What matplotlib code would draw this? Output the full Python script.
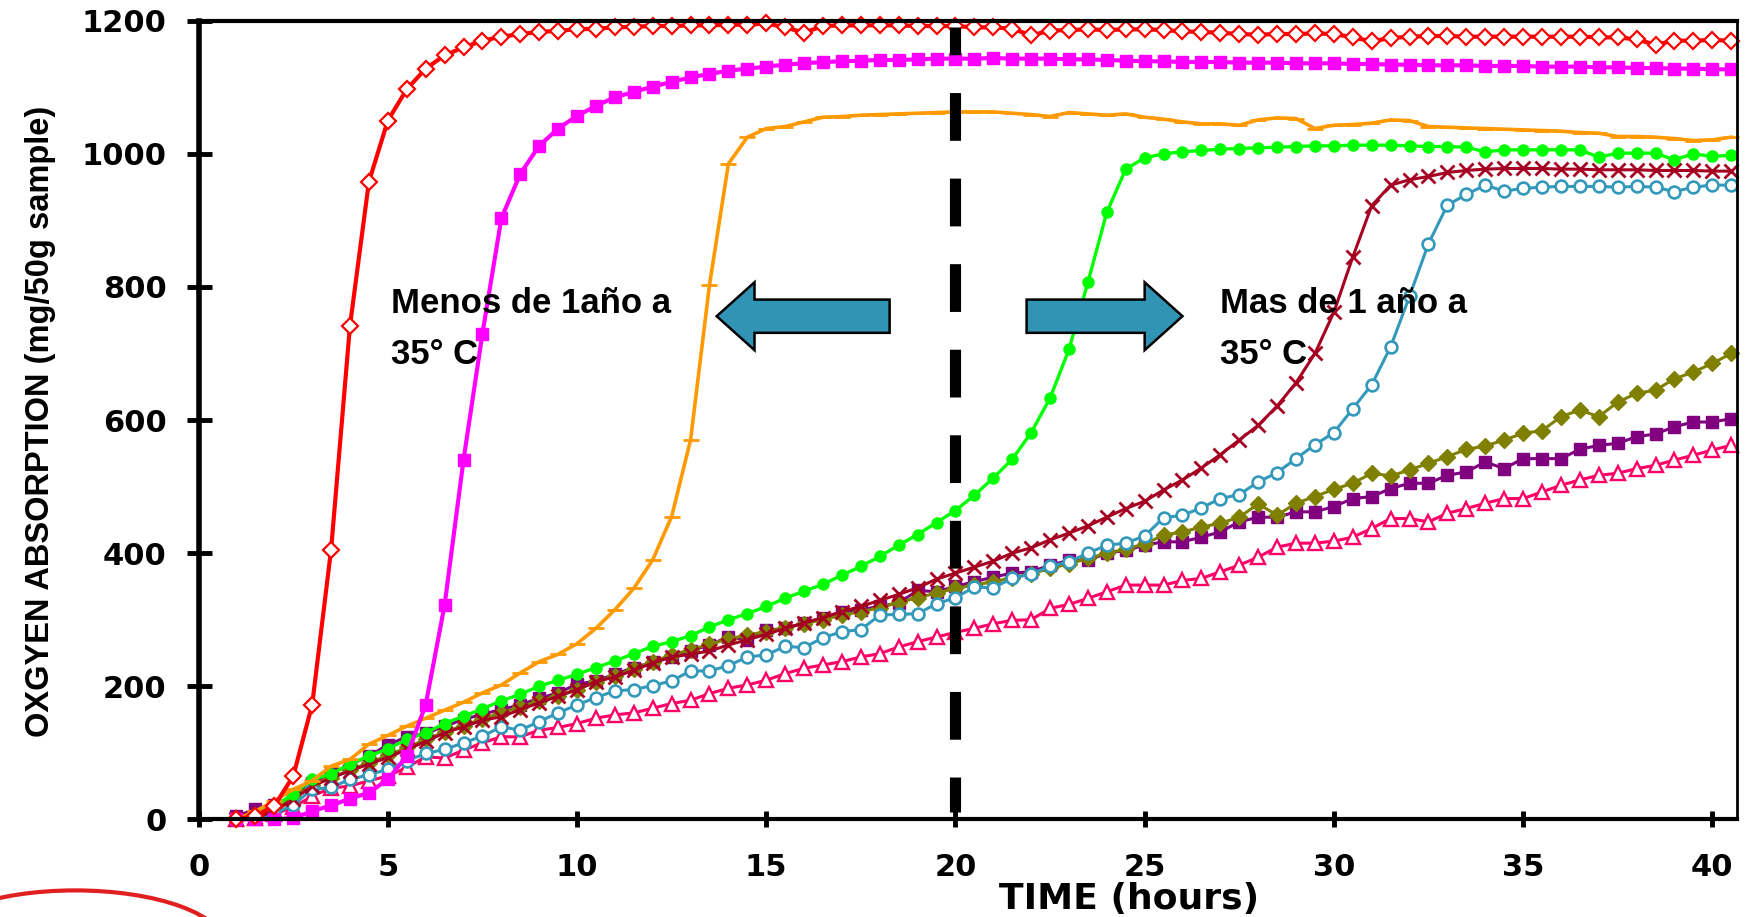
import numpy as np
import matplotlib
matplotlib.use('Agg')
import matplotlib.pyplot as plt
from matplotlib.patches import FancyArrow, Ellipse

# oxygen absorption vs time, readings every half hour from 1 h to 40.5 h
hours = np.arange(1.0, 41.0, 0.5)

red = [0, 5, 20, 65, 172, 405, 742, 958, 1050, 1097,
       1128, 1148, 1160, 1170, 1176, 1180, 1183, 1185, 1187, 1188,
       1190, 1191, 1192, 1192, 1193, 1193, 1194, 1194, 1196, 1190,
       1182, 1192, 1193, 1193, 1193, 1193, 1192, 1192, 1192, 1190,
       1190, 1188, 1178, 1185, 1186, 1187, 1186, 1187, 1187, 1186,
       1184, 1183, 1182, 1180, 1179, 1180, 1180, 1181, 1180, 1175,
       1169, 1174, 1176, 1177, 1177, 1176, 1176, 1176, 1176, 1176,
       1176, 1176, 1175, 1175, 1172, 1164, 1170, 1170, 1171, 1170]

magenta = [0, 0, 0, 2, 12, 21, 31, 40, 60, 95,
           172, 322, 540, 730, 903, 970, 1012, 1038, 1057, 1072,
           1085, 1093, 1101, 1108, 1115, 1120, 1125, 1128, 1131, 1134,
           1136, 1138, 1139, 1140, 1141, 1141, 1142, 1143, 1143, 1143,
           1144, 1143, 1143, 1143, 1142, 1142, 1141, 1140, 1139, 1139,
           1138, 1138, 1138, 1137, 1137, 1137, 1136, 1136, 1136, 1135,
           1135, 1134, 1134, 1133, 1133, 1133, 1132, 1132, 1132, 1131,
           1131, 1131, 1130, 1130, 1129, 1129, 1128, 1128, 1127, 1127]

orange = [0, 12, 28, 45, 58, 80, 90, 113, 126, 140,
          152, 164, 176, 190, 202, 220, 237, 248, 264, 287,
          315, 347, 390, 455, 570, 803, 985, 1025, 1038, 1041,
          1048, 1055, 1056, 1058, 1059, 1060, 1061, 1062, 1063, 1063,
          1063, 1061, 1059, 1056, 1062, 1060, 1058, 1060, 1055, 1052,
          1048, 1045, 1045, 1043, 1051, 1054, 1053, 1038, 1043, 1044,
          1046, 1051, 1050, 1041, 1040, 1039, 1038, 1037, 1036, 1035,
          1034, 1032, 1031, 1026, 1026, 1025, 1023, 1020, 1021, 1025]

green = [0, 8, 20, 38, 60, 68, 83, 95, 106, 120,
         130, 144, 155, 166, 178, 188, 200, 209, 218, 228,
         238, 249, 260, 267, 276, 289, 300, 309, 320, 332,
         343, 353, 367, 380, 395, 412, 428, 446, 464, 487,
         513, 541, 581, 633, 706, 807, 912, 977, 994, 1000,
         1003, 1005, 1007, 1008, 1009, 1010, 1011, 1012, 1012, 1013,
         1013, 1013, 1012, 1011, 1011, 1010, 1003, 1006, 1006, 1006,
         1006, 1006, 995, 1001, 1001, 1001, 991, 1000, 996, 998]

darkred = [0, 3, 12, 30, 50, 62, 73, 83, 93, 105,
           117, 130, 139, 149, 154, 165, 175, 185, 195, 207,
           214, 224, 235, 244, 248, 253, 262, 270, 278, 287,
           295, 303, 312, 320, 329, 338, 348, 361, 370, 379,
           388, 400, 408, 420, 430, 441, 454, 467, 478, 495,
           510, 528, 548, 570, 592, 621, 656, 700, 762, 845,
           922, 953, 961, 966, 972, 975, 977, 978, 978, 978,
           977, 977, 976, 976, 976, 975, 975, 975, 974, 974]

teal = [0, 2, 8, 22, 45, 48, 60, 67, 75, 88,
        99, 105, 115, 125, 139, 134, 147, 160, 172, 183,
        193, 195, 201, 208, 223, 223, 231, 244, 247, 260,
        258, 273, 282, 285, 307, 308, 309, 324, 333, 349,
        348, 362, 369, 380, 387, 400, 412, 415, 426, 453,
        457, 468, 482, 488, 507, 521, 542, 563, 581, 617,
        653, 710, 786, 865, 923, 939, 953, 944, 948, 950,
        951, 951, 951, 950, 951, 950, 943, 950, 953, 953]

olive = [0, 5, 15, 32, 52, 62, 74, 85, 96, 108,
         120, 131, 141, 151, 160, 169, 178, 186, 195, 206,
         216, 226, 237, 247, 255, 263, 271, 277, 282, 288,
         294, 300, 307, 312, 318, 326, 333, 340, 347, 352,
         357, 363, 369, 377, 384, 392, 400, 406, 414, 427,
         432, 439, 445, 454, 474, 457, 475, 485, 496, 505,
         520, 516, 525, 535, 545, 556, 561, 570, 580, 584,
         605, 615, 605, 627, 640, 645, 662, 672, 685, 700]

purple = [5, 15, 22, 35, 55, 69, 82, 95, 112, 124,
          129, 140, 150, 158, 165, 172, 182, 190, 203, 208,
          218, 228, 236, 244, 253, 262, 274, 270, 284, 287,
          295, 303, 312, 315, 320, 325, 344, 342, 350, 357,
          364, 370, 372, 382, 389, 389, 400, 404, 412, 417,
          417, 424, 432, 447, 454, 454, 462, 462, 470, 482,
          485, 497, 505, 505, 517, 522, 537, 527, 542, 542,
          542, 556, 562, 565, 575, 579, 590, 597, 597, 602]

pink = [0, 2, 8, 18, 35, 47, 50, 58, 65, 78,
        94, 92, 104, 115, 124, 124, 134, 138, 144, 152,
        157, 160, 167, 174, 179, 189, 197, 202, 209, 219,
        227, 232, 237, 244, 249, 259, 267, 274, 281, 287,
        294, 299, 300, 317, 323, 332, 342, 352, 352, 352,
        359, 362, 372, 382, 394, 409, 415, 415, 418, 424,
        437, 452, 452, 447, 460, 467, 475, 482, 482, 492,
        502, 510, 517, 520, 527, 532, 540, 547, 555, 562]

x_ticks = [0, 5, 10, 15, 20, 25, 30, 35, 40]
y_ticks = [0, 200, 400, 600, 800, 1000, 1200]
divider_hour = 20
left_note = "Menos de 1año a\n35° C"
right_note = "Mas de 1 año a\n35° C"

plt.rcParams['font.family'] = ['DejaVu Sans']
plt.rcParams['font.weight'] = 'bold'

fig = plt.figure(figsize=(17.5, 9.17), dpi=100)
ax = fig.add_axes([0.1135, 0.1065, 0.879, 0.8709])

# (values, colour, marker, marker size, face colour, line width, marker edge width)
styles = [
    (pink, '#FF0066', '^', 9.5, 'white', 2.2, 1.7),
    (purple, '#800080', 's', 9, '#800080', 2.2, 1.0),
    (olive, '#808000', 'D', 8, '#808000', 2.2, 1.0),
    (teal, '#3399BB', 'o', 8.5, 'white', 2.2, 1.9),
    (darkred, '#A50021', 'x', 10, '#A50021', 2.2, 2.0),
    (green, '#00FF00', 'o', 8, '#00FF00', 2.4, 1.0),
    (orange, '#FF9900', '_', 12, '#FF9900', 2.6, 2.0),
    (magenta, '#FF00FF', 's', 9, '#FF00FF', 3.0, 1.0),
    (red, '#FF0000', 'D', 8, 'white', 3.0, 1.6),
]
for vals, col, mk, ms, mfc, lw, mew in styles:
    ax.plot(hours, vals, color=col, lw=lw, marker=mk, ms=ms, mfc=mfc,
            mec=col, mew=mew, clip_on=False)

# thick dashed divider at 20 h
ax.plot([divider_hour, divider_hour], [1190, 11], color='black', lw=8,
        linestyle=(1.8, (4.3, 3.4)), dash_capstyle='butt', zorder=6)

# block arrows
arrow_kw = dict(width=50, head_width=102, head_length=1.0,
                length_includes_head=True, fc='#3194B5', ec='black',
                lw=1.8, zorder=7)
ax.add_patch(FancyArrow(18.26, 756, -4.57, 0, **arrow_kw))
ax.add_patch(FancyArrow(21.88, 756, 4.12, 0, **arrow_kw))

note_font = ['Liberation Sans Narrow', 'Liberation Sans']
ax.text(5.08, 800, left_note, fontsize=25, family=note_font,
        fontweight='bold', va='top', ha='left', linespacing=1.7, zorder=8)
ax.text(27.0, 800, right_note, fontsize=25, family=note_font,
        fontweight='bold', va='top', ha='left', linespacing=1.7, zorder=8)

ax.set_xlim(0, 40.65)
ax.set_ylim(0, 1200)
ax.set_xticks(x_ticks)
ax.set_yticks(y_ticks)

ax.spines['left'].set_linewidth(4)
ax.spines['bottom'].set_linewidth(3)
ax.spines['top'].set_linewidth(3)
ax.spines['right'].set_linewidth(2)

ax.tick_params(axis='y', direction='inout', length=18, width=3.5,
               pad=14, labelsize=22)
ax.tick_params(axis='x', direction='inout', length=12, width=3.5,
               pad=18, labelsize=22)

ax.set_xlabel("TIME (hours)", fontsize=26, fontweight='bold')
ax.xaxis.set_label_coords(0.605, -0.078)
ax.set_ylabel("OXGYEN ABSORPTION (mg/50g sample)", fontsize=23.5,
              fontweight='bold', family=note_font)
ax.yaxis.set_label_coords(-0.093, 0.498)

# piece of the logo cut off at the lower left corner
fig.patches.append(Ellipse((0.043, -0.031), 0.171, 0.12, fill=False,
                           ec='#E02020', lw=3, transform=fig.transFigure))

fig.savefig('out.png', dpi=100)
